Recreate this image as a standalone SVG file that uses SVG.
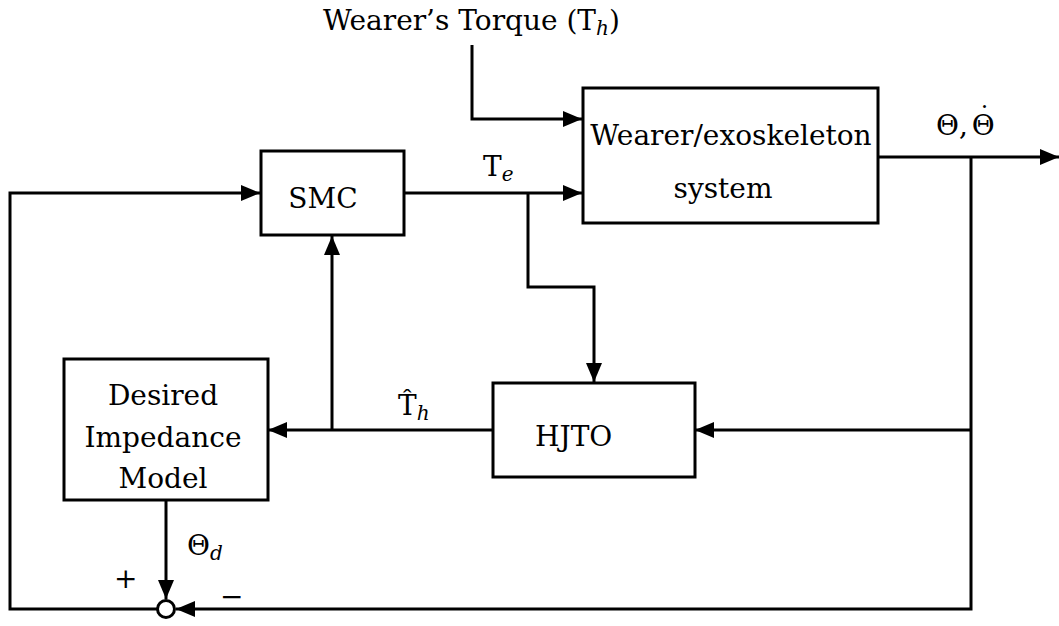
<svg xmlns="http://www.w3.org/2000/svg" width="1059" height="626" viewBox="0 0 1059 626">
<defs>
<marker id="arr" markerUnits="userSpaceOnUse" markerWidth="22" markerHeight="18" refX="19" refY="8" orient="auto">
<path d="M0,0 L19,8 L0,16 Z" fill="#000"/>
</marker>
<style>
.box{fill:#fff;stroke:#000;stroke-width:3}
.ln{fill:none;stroke:#000;stroke-width:3;marker-end:url(#arr)}
text{font-family:"DejaVu Serif","Liberation Serif",serif;font-size:28px;fill:#000}
.c{text-anchor:middle}
.sub{font-size:20px;font-style:italic}
</style>
</defs>
<rect width="1059" height="626" fill="#fff"/>
<g id="connectors">
<path class="ln" d="M472,45 V119 H582"/>
<path class="ln" d="M404,193 H582"/>
<path class="ln" d="M528,193 V287 H594 V382"/>
<path class="ln" d="M878,157 H1059"/>
<path class="ln" d="M971,157 V609 H176"/>
<path class="ln" d="M971,430 H695"/>
<path class="ln" d="M493,430 H268"/>
<path class="ln" d="M332,430 V236"/>
<path class="ln" d="M166,500 V599"/>
<path class="ln" d="M157,609 H10 V193 H260"/>
</g>
<g id="label-torque">
<text x="323" y="30">Wearer’s Torque (T<tspan class="sub" dy="5">h</tspan><tspan dy="-5">)</tspan></text>
</g>
<g id="wearer">
<rect class="box" x="583" y="88" width="295" height="135"/>
<text class="c" x="731" y="145">Wearer/exoskeleton</text>
<text class="c" x="723" y="198">system</text>
</g>
<g id="smc">
<rect class="box" x="261" y="151" width="143" height="84"/>
<text class="c" x="323" y="208">SMC</text>
</g>
<g id="hjto">
<rect class="box" x="493" y="383" width="202" height="94"/>
<text x="535" y="446">HJTO</text>
</g>
<g id="impedance">
<rect class="box" x="64" y="359" width="204" height="141"/>
<text class="c" x="163" y="405">Desired</text>
<text class="c" x="163" y="447">Impedance</text>
<text class="c" x="163" y="488">Model</text>
</g>
<g id="sum">
<circle cx="166" cy="609" r="8.5" fill="#fff" stroke="#000" stroke-width="3"/>
<text x="114" y="588" font-size="24">+</text>
<text x="220" y="606" font-size="24">−</text>
</g>
<g id="labels">
<text x="483" y="176">T<tspan class="sub" dy="5">e</tspan></text>
<text x="398" y="415">T̂<tspan class="sub" dy="5">h</tspan></text>
<text x="936" y="135">Θ,<tspan dx="4">Θ</tspan><tspan x="978" dy="-10" font-size="26">˙</tspan></text>
<text x="187" y="555">Θ<tspan class="sub" dy="5">d</tspan></text>
</g>
</svg>
